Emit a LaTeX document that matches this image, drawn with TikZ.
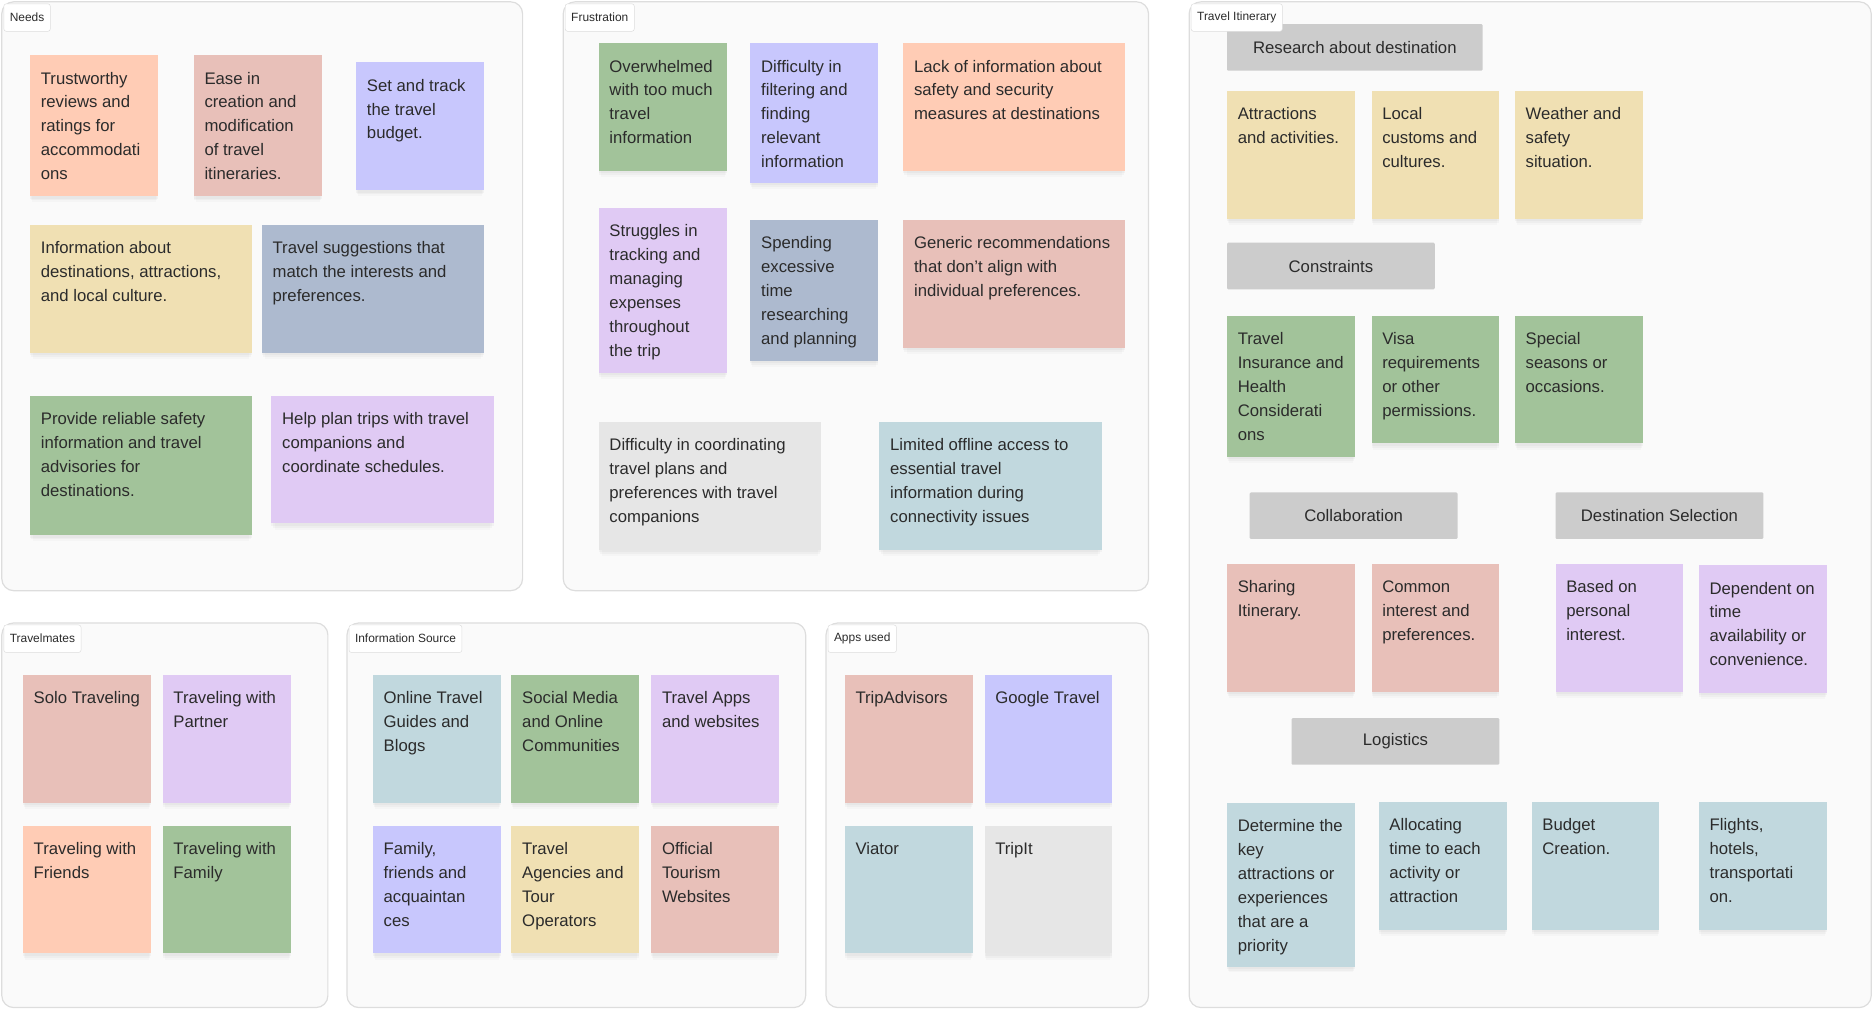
\documentclass[tikz,border=0pt]{standalone}
\usepackage{fontspec}
\setmainfont{Liberation Sans}
\usepackage{tikz}
\usepackage{xcolor}
\usetikzlibrary{positioning,shadows}
\definecolor{notepeach}{HTML}{FFCCB5}
\definecolor{noterose}{HTML}{E8C0B9}
\definecolor{noteblue}{HTML}{C8C7FD}
\definecolor{noteyellow}{HTML}{F0E0B3}
\definecolor{noteslate}{HTML}{ADBACF}
\definecolor{notegreen}{HTML}{A2C39A}
\definecolor{notelilac}{HTML}{E0CAF4}
\definecolor{noteteal}{HTML}{C1D8DE}
\definecolor{notegray}{HTML}{E6E6E6}
\definecolor{headgray}{HTML}{CCCCCC}
\definecolor{framefill}{HTML}{FAFAFA}
\definecolor{frameline}{HTML}{DDDDDD}
\definecolor{inktext}{HTML}{2B2B2B}
\begin{document}
\begin{tikzpicture}[
        x=1pt, y=-1pt,
        frame/.style={
          draw=frameline,
          fill=framefill,
          line width=1pt,
          rounded corners=10pt,
          anchor=north west,
          inner sep=0pt
        },
        tab/.style={
          draw=frameline,
          fill=white,
          rounded corners=2pt,
          inner xsep=5pt,
          minimum height=23pt,
          font=\fontsize{10}{12}\selectfont,
          text=inktext
        },
        note/.style={
          anchor=north west,
          inner sep=0pt,
          minimum width=107pt,
          minimum height=107pt,
          drop shadow={shadow xshift=0pt, shadow yshift=-2pt, opacity=.06},
          drop shadow={shadow xshift=0pt, shadow yshift=-4pt, shadow scale=.99, opacity=.05},
          drop shadow={shadow xshift=0pt, shadow yshift=-7pt, shadow scale=.97, opacity=.04}
        },
        wide/.style={minimum width=186pt},
        txt/.style={
          anchor=north west,
          inner xsep=9pt,
          inner ysep=14pt,
          align=left,
          font=\fontsize{14}{20}\selectfont,
          text=inktext
        },
        head/.style={
          anchor=north west,
          fill=headgray,
          rounded corners=1pt,
          minimum width=174pt,
          minimum height=39pt,
          font=\fontsize{14}{20}\selectfont,
          text=inktext
        }
      ]

      \useasboundingbox (0,0) rectangle (1568,844);

      % frames
      \node[frame, minimum width=436pt, minimum height=493pt] (needs) at (1,1) {};
      \node[frame, minimum width=490pt, minimum height=493pt] (frust) at (471,1) {};
      \node[frame, minimum width=571pt, minimum height=842pt] (itin) at (995,1) {};
      \node[frame, minimum width=273pt, minimum height=322pt] (mates) at (1,521) {};
      \node[frame, minimum width=384pt, minimum height=322pt] (source) at (290,521) {};
      \node[frame, minimum width=270pt, minimum height=322pt] (apps) at (691,521) {};

      % needs
      \node[note, fill=notepeach, minimum height=118pt,
        label={[txt]north west:{Trustworthy\\reviews and\\ratings for\\accommodati\\ons}}] (trust) at (25,46) {};
      \node[note, fill=noterose, minimum height=118pt,
        label={[txt]north west:{Ease in\\creation and\\modification\\of travel\\itineraries.}}] (ease) at (162,46) {};
      \node[note, fill=noteblue,
        label={[txt]north west:{Set and track\\the travel\\budget.}}] (budget) at (298,52) {};
      \node[note, wide, fill=noteyellow,
        label={[txt]north west:{Information about\\destinations, attractions,\\and local culture.}}] (info) at (25,188) {};
      \node[note, wide, fill=noteslate,
        label={[txt]north west:{Travel suggestions that\\match the interests and\\preferences.}}] (suggest) at (219,188) {};
      \node[note, wide, fill=notegreen, minimum height=117pt,
        label={[txt]north west:{Provide reliable safety\\information and travel\\advisories for\\destinations.}}] (safety) at (25,331) {};
      \node[note, wide, fill=notelilac,
        label={[txt]north west:{Help plan trips with travel\\companions and\\coordinate schedules.}}] (companions) at (227,331) {};

      % frustration
      \node[note, fill=notegreen,
        label={[txt]north west:{Overwhelmed\\with too much\\travel\\information}}] (overwhelm) at (501,36) {};
      \node[note, fill=noteblue, minimum height=117pt,
        label={[txt]north west:{Difficulty in\\filtering and\\finding\\relevant\\information}}] (filter) at (628,36) {};
      \node[note, wide, fill=notepeach,
        label={[txt]north west:{Lack of information about\\safety and security\\measures at destinations}}] (lack) at (756,36) {};
      \node[note, fill=notelilac, minimum height=138pt,
        label={[txt]north west:{Struggles in\\tracking and\\managing\\expenses\\throughout\\the trip}}] (expenses) at (501,174) {};
      \node[note, fill=noteslate, minimum height=118pt,
        label={[txt]north west:{Spending\\excessive\\time\\researching\\and planning}}] (spending) at (628,184) {};
      \node[note, wide, fill=noterose,
        label={[txt]north west:{Generic recommendations\\that don't align with\\individual preferences.}}] (generic) at (756,184) {};
      \node[note, wide, fill=notegray,
        label={[txt]north west:{Difficulty in coordinating\\travel plans and\\preferences with travel\\companions}}] (coord) at (501,353) {};
      \node[note, wide, fill=noteteal,
        label={[txt]north west:{Limited offline access to\\essential travel\\information during\\connectivity issues}}] (offline) at (736,353) {};

      % travel itinerary
      \node[head, minimum width=214pt] (research) at (1027,20) {Research about destination};
      \node[note, fill=noteyellow,
        label={[txt]north west:{Attractions\\and activities.}}] (attract) at (1027,76) {};
      \node[note, fill=noteyellow,
        label={[txt]north west:{Local\\customs and\\cultures.}}] (customs) at (1148,76) {};
      \node[note, fill=noteyellow,
        label={[txt]north west:{Weather and\\safety\\situation.}}] (weather) at (1268,76) {};

      \node[head] (constraints) at (1027,203) {Constraints};
      \node[note, fill=notegreen, minimum height=118pt,
        label={[txt]north west:{Travel\\Insurance and\\Health\\Considerati\\ons}}] (insurance) at (1027,264) {};
      \node[note, fill=notegreen,
        label={[txt]north west:{Visa\\requirements\\or other\\permissions.}}] (visa) at (1148,264) {};
      \node[note, fill=notegreen,
        label={[txt]north west:{Special\\seasons or\\occasions.}}] (seasons) at (1268,264) {};

      \node[head] (collab) at (1046,412) {Collaboration};
      \node[head] (destsel) at (1302,412) {Destination Selection};
      \node[note, fill=noterose,
        label={[txt]north west:{Sharing\\Itinerary.}}] (sharing) at (1027,472) {};
      \node[note, fill=noterose,
        label={[txt]north west:{Common\\interest and\\preferences.}}] (common) at (1148,472) {};
      \node[note, fill=notelilac,
        label={[txt]north west:{Based on\\personal\\interest.}}] (personal) at (1302,472) {};
      \node[note, fill=notelilac,
        label={[txt]north west:{Dependent on\\time\\availability or\\convenience.}}] (dependent) at (1422,473) {};

      \node[head] (logistics) at (1081,601) {Logistics};
      \node[note, fill=noteteal, minimum height=137pt,
        label={[txt]north west:{Determine the\\key\\attractions or\\experiences\\that are a\\priority}}] (priority) at (1027,672) {};
      \node[note, fill=noteteal,
        label={[txt]north west:{Allocating\\time to each\\activity or\\attraction}}] (allocating) at (1154,671) {};
      \node[note, fill=noteteal,
        label={[txt]north west:{Budget\\Creation.}}] (creation) at (1282,671) {};
      \node[note, fill=noteteal,
        label={[txt]north west:{Flights,\\hotels,\\transportati\\on.}}] (flights) at (1422,671) {};

      % travelmates
      \node[note, fill=noterose,
        label={[txt]north west:{Solo Traveling}}] (solo) at (19,565) {};
      \node[note, fill=notelilac,
        label={[txt]north west:{Traveling with\\Partner}}] (partner) at (136,565) {};
      \node[note, fill=notepeach,
        label={[txt]north west:{Traveling with\\Friends}}] (friends) at (19,691) {};
      \node[note, fill=notegreen,
        label={[txt]north west:{Traveling with\\Family}}] (family) at (136,691) {};

      % information source
      \node[note, fill=noteteal,
        label={[txt]north west:{Online Travel\\Guides and\\Blogs}}] (guides) at (312,565) {};
      \node[note, fill=notegreen,
        label={[txt]north west:{Social Media\\and Online\\Communities}}] (social) at (428,565) {};
      \node[note, fill=notelilac,
        label={[txt]north west:{Travel Apps\\and websites}}] (travelapps) at (545,565) {};
      \node[note, fill=noteblue,
        label={[txt]north west:{Family,\\friends and\\acquaintan\\ces}}] (acquaint) at (312,691) {};
      \node[note, fill=noteyellow,
        label={[txt]north west:{Travel\\Agencies and\\Tour\\Operators}}] (agencies) at (428,691) {};
      \node[note, fill=noterose,
        label={[txt]north west:{Official\\Tourism\\Websites}}] (official) at (545,691) {};

      % apps used
      \node[note, fill=noterose,
        label={[txt]north west:{TripAdvisors}}] (tripadv) at (707,565) {};
      \node[note, fill=noteblue,
        label={[txt]north west:{Google Travel}}] (google) at (824,565) {};
      \node[note, fill=noteteal,
        label={[txt]north west:{Viator}}] (viator) at (707,691) {};
      \node[note, fill=notegray,
        label={[txt]north west:{TripIt}}] (tripit) at (824,691) {};

      % tabs on top
      \node[tab, below right=2pt and 2pt of needs.north west] (needstab) {Needs};
      \node[tab, below right=2pt and 2pt of frust.north west] (frusttab) {Frustration};
      \node[tab, below right=2pt and 2pt of itin.north west] (itintab) {Travel Itinerary};
      \node[tab, below right=2pt and 2pt of mates.north west] (matestab) {Travelmates};
      \node[tab, below right=2pt and 2pt of source.north west] (sourcetab) {Information Source};
      \node[tab, below right=2pt and 2pt of apps.north west] (appstab) {Apps used};

      \end{tikzpicture}
\end{document}
